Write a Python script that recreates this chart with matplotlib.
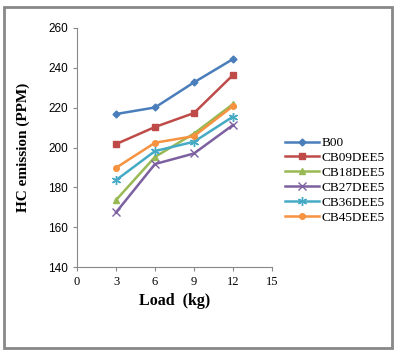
import matplotlib.pyplot as plt
from matplotlib.patches import Rectangle

load = [3, 6, 9, 12]
b00 = [216.8, 220.1, 232.7, 244.4]
cb09 = [201.7, 210.3, 217.3, 236.4]
cb18 = [173.6, 195.3, 207.0, 221.8]
cb27 = [167.4, 191.7, 197.0, 211.3]
cb36 = [183.6, 198.2, 202.9, 215.5]
cb45 = [189.8, 202.4, 205.7, 220.8]
names = ['B00', 'CB09DEE5', 'CB18DEE5', 'CB27DEE5', 'CB36DEE5', 'CB45DEE5']
colors = ['#4A7EBB', '#BE4B48', '#98B954', '#7D60A0', '#46AAC5', '#F69240']
markers = ['D', 's', '^', 'x', (6, 2, 0), 'o']
sizes = [3.5, 4.5, 4.5, 5.5, 6.5, 4]

fig = plt.figure(figsize=(4.01, 3.55), dpi=100)
W, H = 401, 355
ax = fig.add_axes([77 / W, 1 - 267 / H, (272 - 77) / W, (267 - 28) / H])

series = [b00, cb09, cb18, cb27, cb36, cb45]
for vals, nm, c, m, s in zip(series, names, colors, markers, sizes):
    ax.plot(load, vals, color=c, lw=1.8, marker=m, ms=s, mec=c, mfc=c, label=nm)

ax.set_xlim(0, 15)
ax.set_ylim(140, 260)
ax.set_xticks(range(0, 16, 3))
ax.set_yticks(range(140, 261, 20))
for sp in ['top', 'right']:
    ax.spines[sp].set_visible(False)
for sp in ['left', 'bottom']:
    ax.spines[sp].set_color('#888888')
ax.tick_params(axis='both', direction='out', length=3, color='#888888', labelsize=9)
for t in ax.get_xticklabels():
    t.set_fontfamily('Liberation Serif')
for t in ax.get_yticklabels():
    t.set_fontfamily('Liberation Sans')
    t.set_fontsize(8.5)

ax.set_xlabel('Load  (kg)', fontfamily='Liberation Serif', fontweight='bold', fontsize=11.5)
ax.set_ylabel('HC emission (PPM)', fontfamily='Liberation Serif', fontweight='bold', fontsize=11)
ax.xaxis.set_label_coords(0.5, -0.11)
ax.yaxis.set_label_coords(-0.24, 0.5)

leg = ax.legend(loc='upper left', bbox_to_anchor=(285 / W, 1 - 137 / H), bbox_transform=fig.transFigure,
                frameon=False, prop={'family': 'Liberation Serif', 'size': 9.5},
                handlelength=2.6, handletextpad=0.2, labelspacing=0.2, borderaxespad=0,
                borderpad=0)

fig.patches.append(Rectangle((4 / W, 1 - 348 / H), 388 / W, 341 / H, transform=fig.transFigure,
                             fill=False, ec='#888888', lw=2))

fig.savefig('out.png', dpi=100)
